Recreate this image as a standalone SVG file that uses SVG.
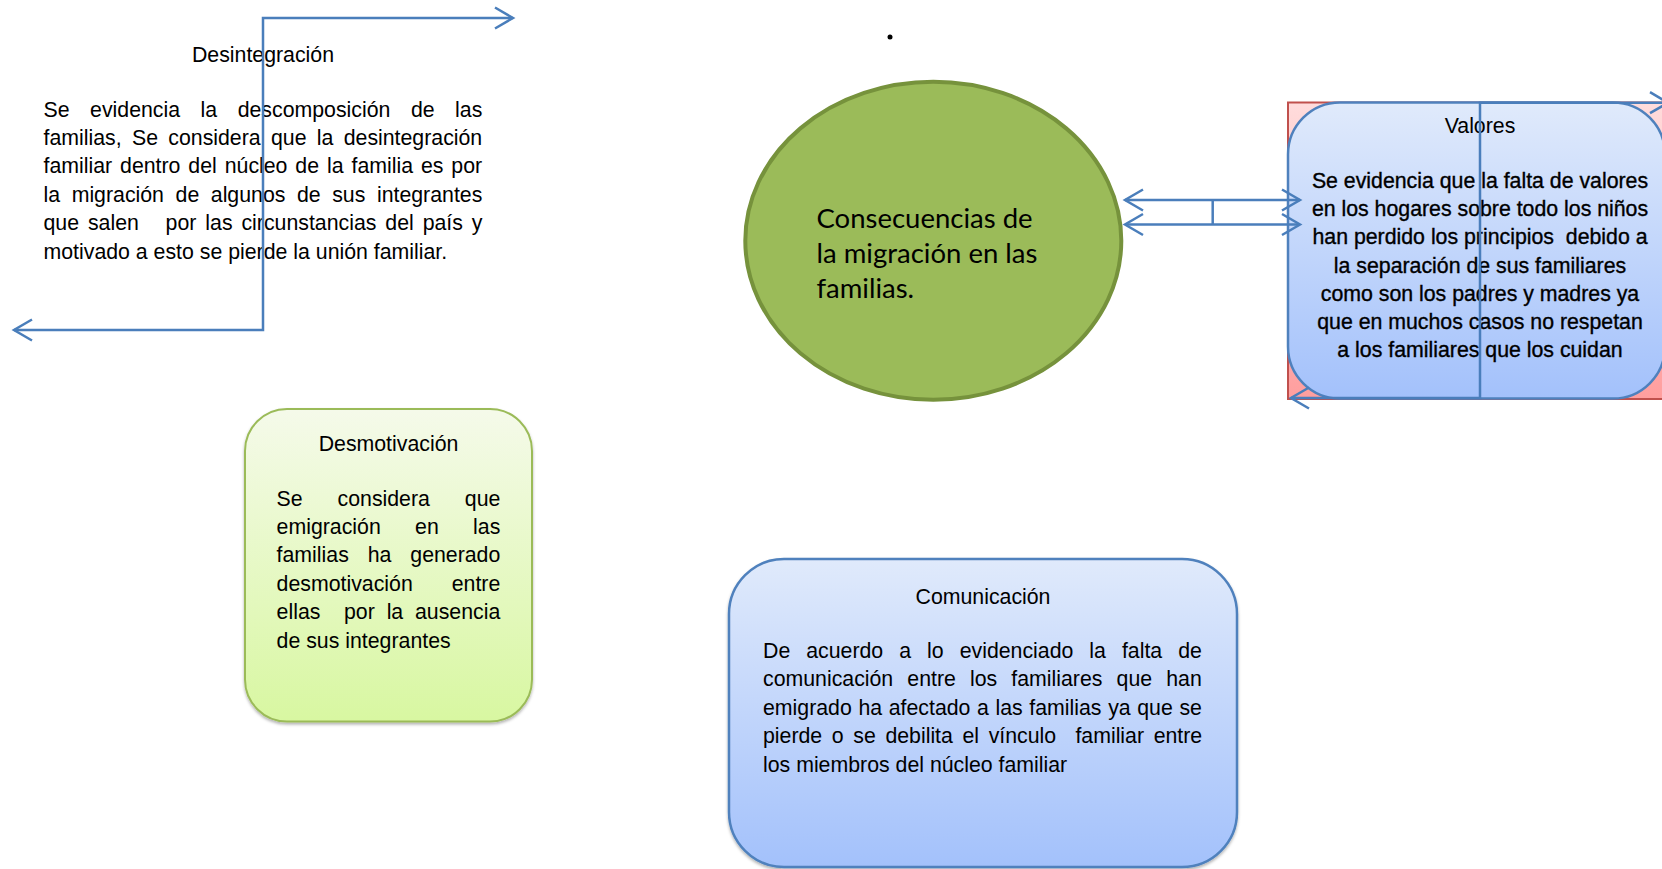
<svg xmlns="http://www.w3.org/2000/svg" width="1662" height="869" viewBox="0 0 1662 869">
<style>
.t{font-family:"Liberation Sans",Arial,sans-serif;font-size:21.3px;fill:#000}
.c{text-anchor:middle}
.v{stroke:#000;stroke-width:0.35}
.conn{fill:none;stroke:#4A7EBB;stroke-width:2.5;stroke-linejoin:miter}
.big{font-family:Lato,"Open Sans",sans-serif;font-size:27.5px;fill:#000}
</style>
<defs>
<linearGradient id="gGreen" x1="0" y1="0" x2="0" y2="1"><stop offset="0" stop-color="#F5FAEA"/><stop offset="1" stop-color="#D8F7A1"/></linearGradient>
<linearGradient id="gBlue" x1="0" y1="0" x2="0" y2="1"><stop offset="0" stop-color="#E0EAFB"/><stop offset="1" stop-color="#A3C1FB"/></linearGradient>
<linearGradient id="gRed" x1="0" y1="0" x2="0" y2="1"><stop offset="0" stop-color="#FFDCDC"/><stop offset="1" stop-color="#FF9E9E"/></linearGradient>
<filter id="sh" x="-10%" y="-10%" width="120%" height="125%"><feDropShadow dx="0" dy="2" stdDeviation="1.5" flood-color="#000" flood-opacity="0.3"/></filter>
<marker id="ah" markerUnits="userSpaceOnUse" markerWidth="22" markerHeight="24" viewBox="0 0 22 24" refX="19" refY="12" orient="auto-start-reverse" overflow="visible"><path d="M1,1.5 L19,12 L1,22.5" fill="none" stroke="#4A7EBB" stroke-width="2.5"/></marker>
</defs>

<g id="desintegracion">
<text class="t c" x="263" y="62">Desintegración</text>
<text class="t" x="43.5" y="116.6" word-spacing="14.6">Se evidencia la descomposición de las</text>
<text class="t" x="43.5" y="145" word-spacing="4.4">familias, Se considera que la desintegración</text>
<text class="t" x="43.5" y="173.4" word-spacing="2.0">familiar dentro del núcleo de la familia es por</text>
<text class="t" x="43.5" y="201.8" word-spacing="5.65">la migración de algunos de sus integrantes</text>
<text class="t" x="43.5" y="230.2" word-spacing="3.0" xml:space="preserve">que salen   por las circunstancias del país y</text>
<text class="t" x="43.5" y="258.6">motivado a esto se pierde la unión familiar.</text>
</g>

<g id="dot"><circle cx="890" cy="37" r="2.5" fill="#000"/></g>

<g id="consecuencias">
<ellipse cx="933.3" cy="240.8" rx="188" ry="159" fill="#9BBB59" stroke="#76923C" stroke-width="4"/>
<text class="big" x="816.5" y="228">Consecuencias de</text>
<text class="big" x="816.5" y="263">la migración en las</text>
<text class="big" x="816.5" y="298">familias.</text>
</g>

<g id="valores">
<rect x="1288" y="102.5" width="390" height="296.5" fill="url(#gRed)" stroke="#C0504D" stroke-width="2"/>
<rect x="1288" y="102.5" width="377" height="296" rx="52" ry="52" fill="url(#gBlue)" stroke="#4F81BD" stroke-width="2.5"/>
<text class="t c" x="1480" y="132.5">Valores</text>
<text class="t c v" x="1480" y="187.6">Se evidencia que la falta de valores</text>
<text class="t c v" x="1480" y="215.9">en los hogares sobre todo los niños</text>
<text class="t c v" x="1480" y="244.2" xml:space="preserve">han perdido los principios  debido a</text>
<text class="t c v" x="1480" y="272.5">la separación de sus familiares</text>
<text class="t c v" x="1480" y="300.8">como son los padres y madres ya</text>
<text class="t c v" x="1480" y="329.1">que en muchos casos no respetan</text>
<text class="t c v" x="1480" y="357.4">a los familiares que los cuidan</text>
</g>

<g id="desmotivacion">
<rect x="245" y="409" width="287" height="312.5" rx="42" ry="42" fill="url(#gGreen)" stroke="#9BBB59" stroke-width="2" filter="url(#sh)"/>
<text class="t c" x="388.5" y="450.5">Desmotivación</text>
<text class="t" x="276.6" y="505.6" word-spacing="29.0">Se considera que</text>
<text class="t" x="276.6" y="534" word-spacing="28.4">emigración en las</text>
<text class="t" x="276.6" y="562.4" word-spacing="13.0">familias ha generado</text>
<text class="t" x="276.6" y="590.8" word-spacing="33.1">desmotivación entre</text>
<text class="t" x="276.6" y="619.2" word-spacing="5.9" xml:space="preserve">ellas  por la ausencia</text>
<text class="t" x="276.6" y="647.6">de sus integrantes</text>
</g>

<g id="comunicacion">
<rect x="729" y="559" width="508" height="308" rx="55" ry="55" fill="url(#gBlue)" stroke="#4F81BD" stroke-width="2.5" filter="url(#sh)"/>
<text class="t c" x="983" y="604">Comunicación</text>
<text class="t" x="763" y="658" word-spacing="10.1">De acuerdo a lo evidenciado la falta de</text>
<text class="t" x="763" y="686.4" word-spacing="8.2">comunicación entre los familiares que han</text>
<text class="t" x="763" y="714.8" word-spacing="0.7">emigrado ha afectado a las familias ya que se</text>
<text class="t" x="763" y="743.2" word-spacing="3.7" xml:space="preserve">pierde o se debilita el vínculo  familiar entre</text>
<text class="t" x="763" y="771.6">los miembros del núcleo familiar</text>
</g>

<g id="connectors">
<path class="conn" d="M513,18 L263,18 L263,330 L14,330" marker-start="url(#ah)" marker-end="url(#ah)"/>
<path class="conn" d="M1125,200 L1300,200" marker-start="url(#ah)" marker-end="url(#ah)"/>
<path class="conn" d="M1125,224.5 L1300,224.5" marker-start="url(#ah)" marker-end="url(#ah)"/>
<path class="conn" d="M1212.7,200 L1212.7,224.5"/>
<path class="conn" d="M1668,102.7 L1480,102.7 L1480,398 L1291,398" marker-start="url(#ah)" marker-end="url(#ah)"/>
</g>
</svg>
